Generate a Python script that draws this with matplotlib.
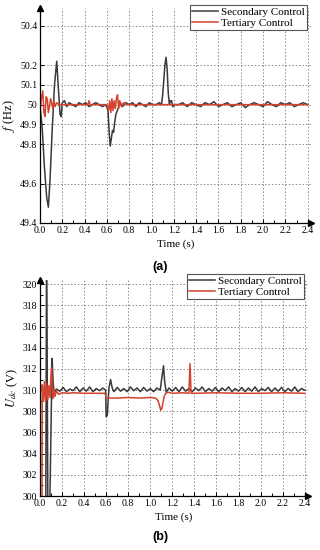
import matplotlib
matplotlib.use("Agg")
import matplotlib.pyplot as plt
from matplotlib.ticker import MultipleLocator, FixedLocator

plt.rcParams['font.family'] = ['Liberation Serif', 'DejaVu Serif']
plt.rcParams['mathtext.fontset'] = 'stix'

# (a) frequency, (time s, f Hz)
sec_a = [(0.00, 50.00), (0.02, 49.88), (0.04, 49.68), (0.06, 49.53), (0.075, 49.48),
         (0.09, 49.62), (0.11, 49.88), (0.13, 50.10), (0.15, 50.22), (0.165, 50.08),
         (0.18, 49.95), (0.19, 49.94), (0.20, 50.01), (0.22, 50.02), (0.24, 49.99),
         (0.26, 50.01), (0.29, 50.00), (0.32, 49.99), (0.35, 50.01), (0.38, 50.00),
         (0.41, 50.01), (0.44, 49.99), (0.47, 50.00), (0.50, 50.01), (0.53, 50.00),
         (0.56, 49.99), (0.59, 50.00), (0.61, 49.97), (0.62, 49.86), (0.63, 49.79),
         (0.64, 49.83), (0.65, 49.87), (0.66, 49.86), (0.67, 49.91), (0.68, 49.95),
         (0.70, 49.98), (0.72, 50.01), (0.74, 49.99), (0.77, 50.01), (0.80, 50.00),
         (0.83, 50.01), (0.86, 49.99), (0.89, 50.01), (0.92, 50.00), (0.95, 49.99),
         (0.98, 50.01), (1.01, 50.00), (1.04, 50.00), (1.07, 50.01), (1.09, 50.00),
         (1.10, 50.05), (1.12, 50.20), (1.13, 50.24), (1.14, 50.18), (1.15, 50.06),
         (1.16, 50.00), (1.17, 50.02), (1.18, 50.02), (1.19, 49.99), (1.21, 50.00),
         (1.24, 50.00), (1.28, 50.01), (1.32, 49.99), (1.36, 50.01), (1.40, 50.00),
         (1.44, 49.99), (1.48, 50.01), (1.52, 50.00), (1.56, 50.015), (1.60, 49.99),
         (1.64, 50.00), (1.68, 50.01), (1.72, 49.99), (1.76, 50.00), (1.80, 50.01),
         (1.84, 49.985), (1.88, 50.00), (1.92, 50.01), (1.96, 50.00), (2.00, 49.99),
         (2.04, 50.015), (2.08, 50.00), (2.12, 49.99), (2.16, 50.01), (2.20, 50.00),
         (2.24, 50.01), (2.28, 49.99), (2.32, 50.00), (2.36, 50.01), (2.40, 50.00)]

ter_a = [(0.00, 49.97), (0.01, 50.02), (0.025, 50.07), (0.035, 49.96), (0.045, 49.94),
         (0.055, 50.04), (0.065, 50.03), (0.075, 49.96), (0.085, 49.99), (0.095, 50.03),
         (0.105, 50.01), (0.115, 49.98), (0.125, 50.02), (0.135, 49.99), (0.15, 50.01),
         (0.17, 50.00), (0.20, 50.00), (0.25, 50.00), (0.30, 50.00), (0.35, 50.00),
         (0.40, 50.00), (0.43, 50.00), (0.44, 50.02), (0.45, 50.00), (0.50, 50.00),
         (0.55, 50.00), (0.60, 50.00), (0.615, 49.97), (0.625, 50.02), (0.635, 49.96),
         (0.645, 50.03), (0.655, 49.97), (0.665, 50.02), (0.675, 49.98), (0.685, 50.03),
         (0.695, 50.05), (0.705, 49.98), (0.715, 50.02), (0.73, 49.99), (0.75, 50.01),
         (0.78, 50.00), (0.85, 50.00), (0.95, 50.00), (1.05, 50.00), (1.15, 50.00),
         (1.30, 50.00), (1.50, 50.00), (1.80, 50.00), (2.10, 50.00), (2.40, 50.00)]

# (b) dc voltage, (time s, U V)
sec_b = [(0.05, 290), (0.06, 325), (0.075, 290), (0.11, 313.0), (0.12, 310.5),
         (0.13, 309.8), (0.15, 310.1), (0.18, 309.9), (0.21, 310.25), (0.24, 309.85),
         (0.27, 310.1), (0.30, 309.95), (0.33, 310.3), (0.36, 309.85), (0.39, 310.2),
         (0.42, 309.9), (0.45, 310.3), (0.48, 309.85), (0.51, 310.15), (0.54, 309.95),
         (0.57, 310.2), (0.595, 310.0), (0.60, 307.5), (0.61, 307.6), (0.625, 310.2),
         (0.64, 311.0), (0.655, 310.2), (0.67, 309.85), (0.70, 310.25), (0.73, 309.9),
         (0.76, 310.15), (0.79, 309.85), (0.82, 310.3), (0.85, 309.95), (0.88, 310.2),
         (0.91, 309.85), (0.94, 310.25), (0.97, 309.9), (1.00, 310.15), (1.03, 309.85),
         (1.06, 310.2), (1.09, 310.0), (1.105, 311.2), (1.12, 312.3), (1.13, 310.8),
         (1.145, 309.8), (1.17, 310.2), (1.20, 309.9), (1.23, 310.25), (1.26, 309.85),
         (1.29, 310.3), (1.32, 309.9), (1.35, 310.15), (1.38, 309.85), (1.41, 310.2),
         (1.44, 309.95), (1.47, 310.3), (1.50, 309.85), (1.53, 310.15), (1.56, 309.9),
         (1.59, 310.25), (1.62, 309.85), (1.65, 310.2), (1.68, 309.95), (1.71, 310.3),
         (1.74, 309.85), (1.77, 310.15), (1.80, 309.9), (1.83, 310.25), (1.86, 309.85),
         (1.89, 310.2), (1.92, 309.9), (1.95, 310.3), (1.98, 309.85), (2.01, 310.15),
         (2.04, 309.95), (2.07, 310.25), (2.10, 309.85), (2.13, 310.2), (2.16, 309.9),
         (2.19, 310.25), (2.22, 309.85), (2.25, 310.15), (2.28, 309.9), (2.31, 310.3),
         (2.34, 309.85), (2.37, 310.15), (2.40, 310.0)]

ter_b = [(0.00, 290), (0.017, 290), (0.02, 310.5), (0.03, 309.0), (0.04, 310.8),
         (0.05, 308.9), (0.06, 310.6), (0.07, 309.1), (0.08, 310.4), (0.09, 309.3),
         (0.10, 311.5), (0.105, 312.1), (0.115, 309.2), (0.125, 310.1), (0.135, 309.4),
         (0.15, 309.9), (0.17, 309.6), (0.20, 309.75), (0.25, 309.7), (0.30, 309.75),
         (0.40, 309.7), (0.50, 309.7), (0.59, 309.7), (0.60, 309.25), (0.70, 309.25),
         (0.80, 309.3), (0.90, 309.25), (1.00, 309.3), (1.05, 309.25), (1.07, 309.0),
         (1.085, 308.5), (1.095, 308.1), (1.105, 308.3), (1.115, 308.8), (1.125, 309.4),
         (1.14, 309.7), (1.16, 309.8), (1.20, 309.7), (1.30, 309.75), (1.35, 309.7),
         (1.36, 312.5), (1.37, 309.7), (1.40, 309.7), (1.60, 309.75), (1.80, 309.7),
         (2.00, 309.7), (2.20, 309.75), (2.40, 309.7)]

yticks_a = [49.4, 49.6, 49.8, 49.9, 50.0, 50.1, 50.2, 50.4]
yticklabels_a = ["49.4", "49.6", "49.8", "49.9", "50", "50.1", "50.2", "50.4"]
xticks = [0.0, 0.2, 0.4, 0.6, 0.8, 1.0, 1.2, 1.4, 1.6, 1.8, 2.0, 2.2, 2.4]
labels = ["Secondary Control", "Tertiary Control"]

c_sec = "#3a3a3a"
c_ter = "#d4432e"

fig = plt.figure(figsize=(3.2, 5.5), dpi=100)
ax1 = fig.add_axes([40/320, 1 - 223/550, 271/320, 215/550])
ax2 = fig.add_axes([40/320, 1 - 496/550, 268/320, 216/550])


def style(ax):
    for s in ["top", "right"]:
        ax.spines[s].set_visible(False)
    ax.spines["left"].set_linewidth(0.9)
    ax.spines["bottom"].set_linewidth(0.9)
    ax.set_xlim(0, 2.43)
    ax.xaxis.set_major_locator(FixedLocator(xticks))
    ax.xaxis.set_minor_locator(MultipleLocator(0.1))
    ax.set_xticklabels([f"{v:.1f}" for v in xticks])
    ax.tick_params(which="both", direction="in", labelsize=7, width=0.7, pad=2)
    ax.tick_params(which="major", length=3)
    ax.tick_params(which="minor", length=2)
    ax.grid(True, which="major", color="#8a8a8a", linestyle=(0, (1.5, 2)), linewidth=0.7)
    ax.set_axisbelow(True)
    ax.plot(1, 0, ">", color="k", ms=4, transform=ax.transAxes, clip_on=False)
    ax.plot(0, 1, "^", color="k", ms=4, transform=ax.transAxes, clip_on=False)
    ax.set_xlabel("Time (s)", fontsize=8, labelpad=3)


def draw(ax, sec, ter):
    ax.plot([p[0] for p in sec], [p[1] for p in sec], color=c_sec, lw=1.1, label=labels[0])
    ax.plot([p[0] for p in ter], [p[1] for p in ter], color=c_ter, lw=1.1, label=labels[1])


draw(ax1, sec_a, ter_a)
style(ax1)
ax1.set_ylim(49.4, 50.49)
ax1.set_yticks(yticks_a)
ax1.set_yticklabels(yticklabels_a)
ax1.set_ylabel("$f$ (Hz)", fontsize=9, labelpad=2)

draw(ax2, sec_b, ter_b)
style(ax2)
ax2.set_ylim(300, 320.4)
ax2.yaxis.set_major_locator(FixedLocator(list(range(300, 321, 2))))
ax2.yaxis.set_minor_locator(MultipleLocator(1))
ax2.set_ylabel("$U_{dc}$ (V)", fontsize=9, labelpad=2)

for ax, anchor in [(ax1, (307/320, 1 - 5/550)), (ax2, (304/320, 1 - 274/550))]:
    leg = ax.legend(loc="upper right", bbox_to_anchor=anchor, bbox_transform=fig.transFigure,
                    fontsize=8, frameon=True, fancybox=False, framealpha=1,
                    edgecolor="#555555", borderpad=0.2, handlelength=2.3,
                    handletextpad=0.3, labelspacing=0.1, borderaxespad=0)
    leg.get_frame().set_linewidth(0.8)

fig.text(0.5, 1 - 267/550, "(a)", ha="center", va="center", fontsize=9,
         fontweight="bold", family="Liberation Sans")
fig.text(0.5, 1 - 537/550, "(b)", ha="center", va="center", fontsize=9,
         fontweight="bold", family="Liberation Sans")

fig.savefig("out.png", dpi=100)
